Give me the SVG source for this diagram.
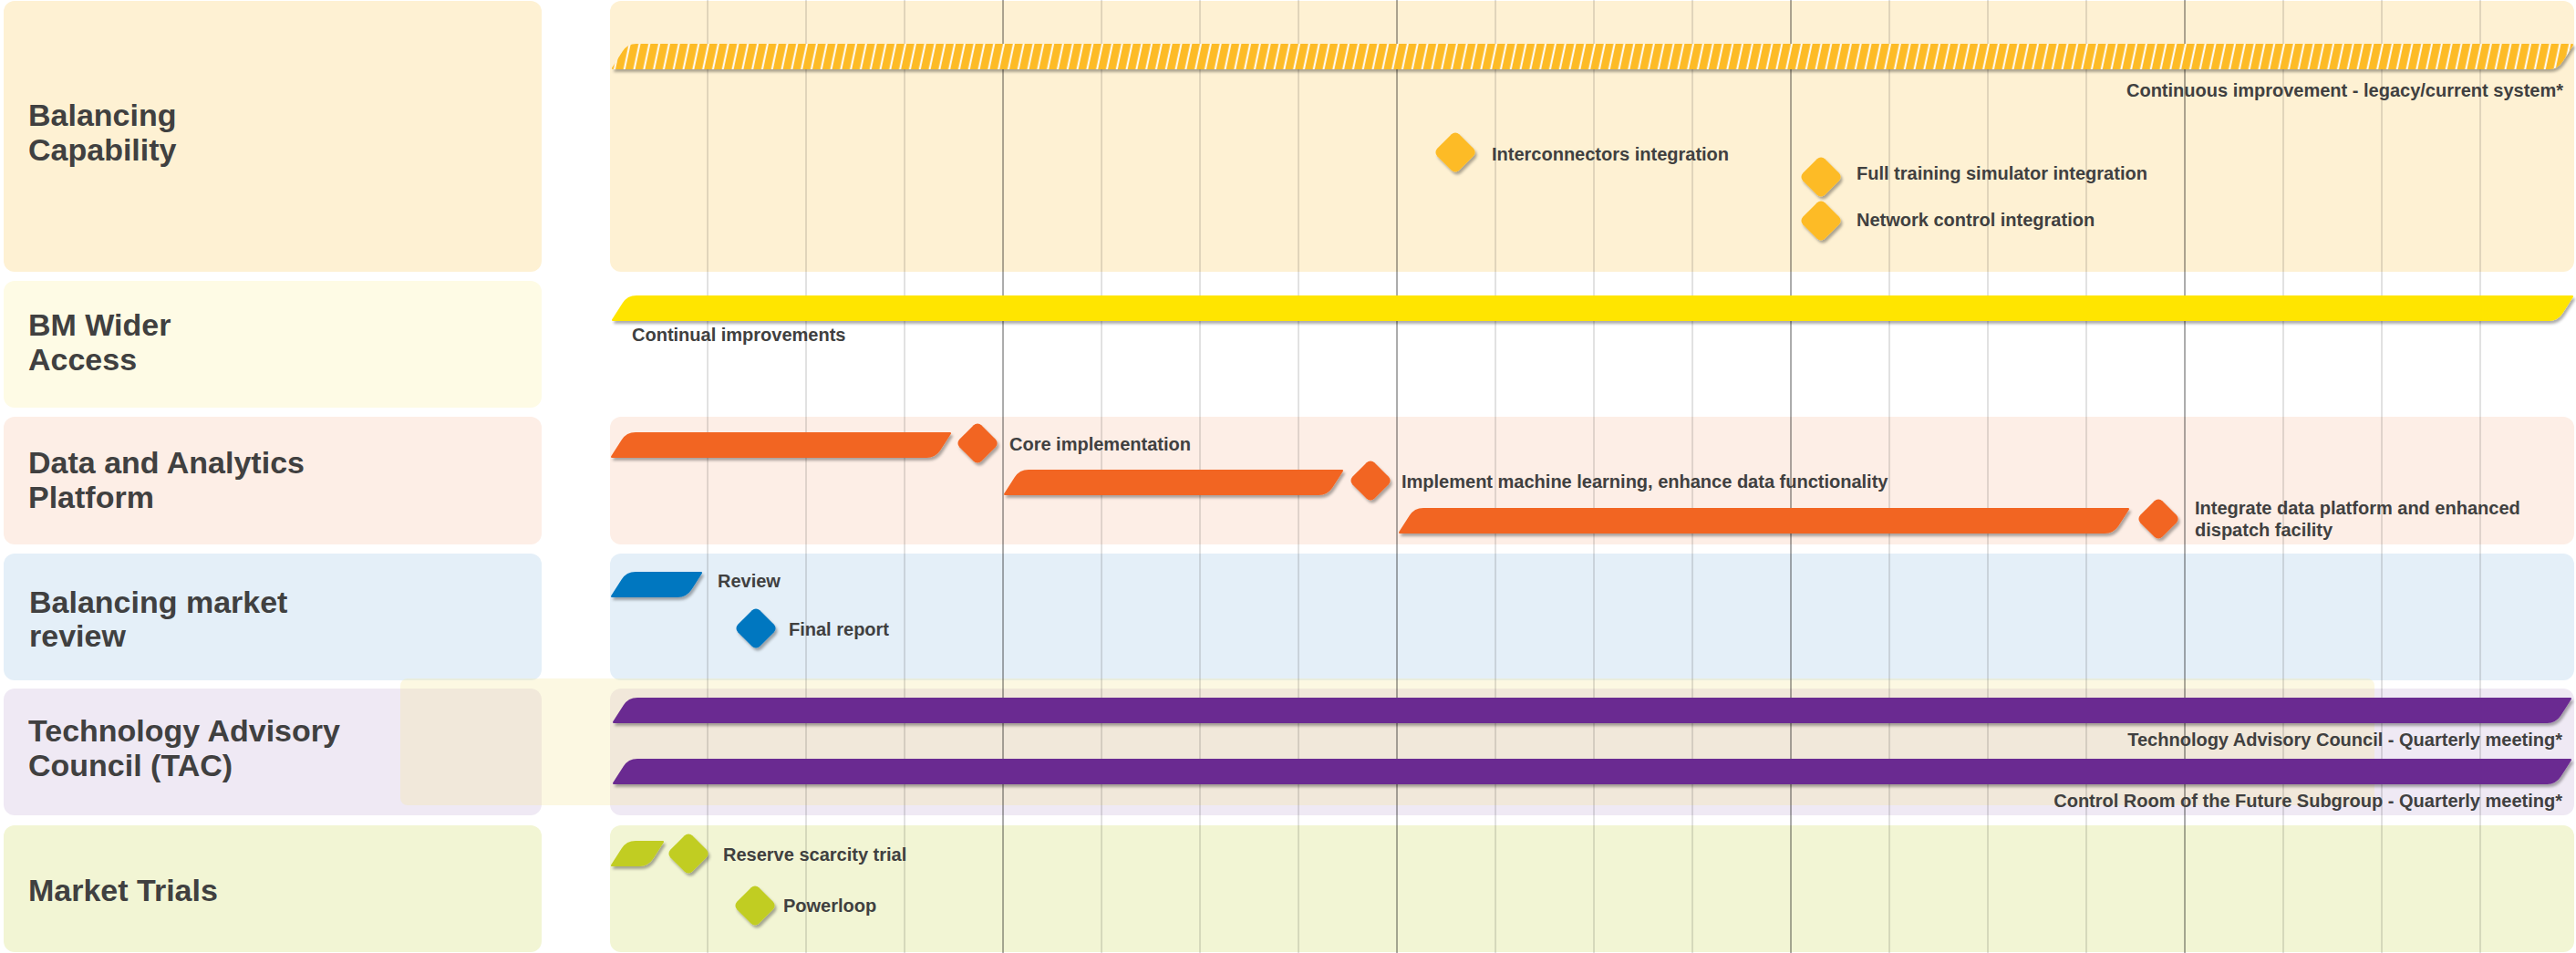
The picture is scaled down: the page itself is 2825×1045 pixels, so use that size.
<svg xmlns="http://www.w3.org/2000/svg" width="2825" height="1045" viewBox="0 0 2825 1045">
<style>
.title{font-family:"Liberation Sans",Arial,sans-serif;font-weight:bold;font-size:34px;fill:#404040}
.lbl{font-family:"Liberation Sans",Arial,sans-serif;font-weight:bold;font-size:20px;fill:#404040}
.end{text-anchor:end}
.gl{stroke:#000;stroke-opacity:0.18;stroke-width:1.3}
.gd{stroke:#000;stroke-opacity:0.5;stroke-width:1.3}
.bar{filter:url(#sh)}
</style>
<defs>
<filter id="sh" x="-5%" y="-40%" width="110%" height="190%">
<feDropShadow dx="2" dy="3" stdDeviation="1.4" flood-color="#000" flood-opacity="0.32"/>
</filter>
<pattern id="hatch" patternUnits="userSpaceOnUse" width="10.8" height="40" patternTransform="skewX(-12)">
<rect width="10.8" height="40" fill="#FDBB27"/>
<rect x="8.6" width="2" height="40" fill="#ffffff"/>
</pattern>
<rect id="dia" x="-17" y="-17" width="34" height="34" rx="6" transform="rotate(45)"/>
</defs>

<g id="panels">
<g id="row-balancing-capability">
<rect x="4" y="1" width="590" height="297" rx="12" fill="#FEF1D3"/>
<rect x="669" y="1" width="2154" height="297" rx="12" fill="#FEF1D3"/>
</g>
<g id="row-bm-wider-access">
<rect x="4" y="308" width="590" height="139" rx="12" fill="#FEFBE5"/>
</g>
<g id="row-data-analytics">
<rect x="4" y="457" width="590" height="140" rx="12" fill="#FDEEE6"/>
<rect x="669" y="457" width="2154" height="140" rx="12" fill="#FDEEE6"/>
</g>
<g id="row-balancing-market-review">
<rect x="4" y="607" width="590" height="139" rx="12" fill="#E4EFF8"/>
<rect x="669" y="607" width="2154" height="139" rx="12" fill="#E4EFF8"/>
</g>
<g id="row-tac">
<rect x="4" y="755" width="590" height="139" rx="12" fill="#EFE9F4"/>
<rect x="669" y="755" width="2154" height="139" rx="12" fill="#EFE9F4"/>
</g>
<g id="row-market-trials">
<rect x="4" y="905" width="590" height="139" rx="12" fill="#F2F5D4"/>
<rect x="669" y="905" width="2154" height="139" rx="12" fill="#F2F5D4"/>
</g>
<rect id="overlay" x="439" y="744" width="2165" height="139" rx="8" fill="#F5E8A0" fill-opacity="0.3"/>
</g>

<g id="titles">
<text class="title" x="31" y="138">Balancing</text>
<text class="title" x="31" y="176">Capability</text>
<text class="title" x="31" y="368">BM Wider</text>
<text class="title" x="31" y="406">Access</text>
<text class="title" x="31" y="519">Data and Analytics</text>
<text class="title" x="31" y="557">Platform</text>
<text class="title" x="32" y="672">Balancing market</text>
<text class="title" x="32" y="709">review</text>
<text class="title" x="31" y="813">Technology Advisory</text>
<text class="title" x="31" y="851">Council (TAC)</text>
<text class="title" x="31" y="988">Market Trials</text>
</g>

<g id="connectors">
<g id="grid">
<line class="gl" x1="776" y1="0" x2="776" y2="1045"/>
<line class="gl" x1="884" y1="0" x2="884" y2="1045"/>
<line class="gl" x1="992" y1="0" x2="992" y2="1045"/>
<line class="gd" x1="1100" y1="0" x2="1100" y2="1045"/>
<line class="gl" x1="1208" y1="0" x2="1208" y2="1045"/>
<line class="gl" x1="1316" y1="0" x2="1316" y2="1045"/>
<line class="gl" x1="1424" y1="0" x2="1424" y2="1045"/>
<line class="gd" x1="1532" y1="0" x2="1532" y2="1045"/>
<line class="gl" x1="1640" y1="0" x2="1640" y2="1045"/>
<line class="gl" x1="1748" y1="0" x2="1748" y2="1045"/>
<line class="gl" x1="1856" y1="0" x2="1856" y2="1045"/>
<line class="gd" x1="1964" y1="0" x2="1964" y2="1045"/>
<line class="gl" x1="2072" y1="0" x2="2072" y2="1045"/>
<line class="gl" x1="2180" y1="0" x2="2180" y2="1045"/>
<line class="gl" x1="2288" y1="0" x2="2288" y2="1045"/>
<line class="gd" x1="2396" y1="0" x2="2396" y2="1045"/>
<line class="gl" x1="2504" y1="0" x2="2504" y2="1045"/>
<line class="gl" x1="2612" y1="0" x2="2612" y2="1045"/>
<line class="gl" x1="2720" y1="0" x2="2720" y2="1045"/>
</g>
</g>

<g id="bar-continuous-improvement">
<path class="bar" fill="url(#hatch)" d="M672.5 76 h2122.5 q10 0 15.41 -8.41 l11.24 -17.49 q1.35 -2.1 -1.15 -2.1 h-2122.5 q-10 0 -15.41 8.41 l-11.24 17.49 q-1.35 2.1 1.15 2.1 z"/>
<text class="lbl end" x="2811" y="106">Continuous improvement - legacy/current system*</text>
</g>
<g id="ms-interconnectors">
<use href="#dia" x="1596" y="167" fill="#FDBB27" class="bar"/>
<text class="lbl" x="1636" y="176">Interconnectors integration</text>
</g>
<g id="ms-full-training">
<use href="#dia" x="1997" y="194" fill="#FDBB27" class="bar"/>
<text class="lbl" x="2036" y="197">Full training simulator integration</text>
</g>
<g id="ms-network-control">
<use href="#dia" x="1997" y="242" fill="#FDBB27" class="bar"/>
<text class="lbl" x="2036" y="248">Network control integration</text>
</g>

<g id="bar-continual-improvements">
<path class="bar" fill="#FFE500" d="M672.5 352 h2122.5 q10 0 15.41 -8.41 l11.24 -17.49 q1.35 -2.1 -1.15 -2.1 h-2122.5 q-10 0 -15.41 8.41 l-11.24 17.49 q-1.35 2.1 1.15 2.1 z"/>
<text class="lbl" x="693" y="374">Continual improvements</text>
</g>

<g id="bar-core">
<path class="bar" fill="#F26522" d="M671.5 502 h344.5 q10 0 15.41 -8.41 l11.24 -17.49 q1.35 -2.1 -1.15 -2.1 h-344.5 q-10 0 -15.41 8.41 l-11.24 17.49 q-1.35 2.1 1.15 2.1 z"/>
</g>
<g id="ms-core">
<use href="#dia" x="1072" y="486" fill="#F26522" class="bar"/>
<text class="lbl" x="1107" y="494">Core implementation</text>
</g>
<g id="bar-ml">
<path class="bar" fill="#F26522" d="M1102.5 543 h343.5 q10 0 15.41 -8.41 l11.24 -17.49 q1.35 -2.1 -1.15 -2.1 h-343.5 q-10 0 -15.41 8.41 l-11.24 17.49 q-1.35 2.1 1.15 2.1 z"/>
</g>
<g id="ms-ml">
<use href="#dia" x="1503" y="527" fill="#F26522" class="bar"/>
<text class="lbl" x="1537" y="535">Implement machine learning, enhance data functionality</text>
</g>
<g id="bar-integrate">
<path class="bar" fill="#F26522" d="M1535.5 585 h772.5 q10 0 15.41 -8.41 l11.24 -17.49 q1.35 -2.1 -1.15 -2.1 h-772.5 q-10 0 -15.41 8.41 l-11.24 17.49 q-1.35 2.1 1.15 2.1 z"/>
</g>
<g id="ms-integrate">
<use href="#dia" x="2367" y="569" fill="#F26522" class="bar"/>
<text class="lbl" x="2407" y="564">Integrate data platform and enhanced</text>
<text class="lbl" x="2407" y="588">dispatch facility</text>
</g>

<g id="bar-review">
<path class="bar" fill="#0077C0" d="M671.5 655 h71.5 q10 0 15.41 -8.41 l11.24 -17.49 q1.35 -2.1 -1.15 -2.1 h-71.5 q-10 0 -15.41 8.41 l-11.24 17.49 q-1.35 2.1 1.15 2.1 z"/>
<text class="lbl" x="787" y="644">Review</text>
</g>
<g id="ms-final-report">
<use href="#dia" x="829" y="689" fill="#0077C0" class="bar"/>
<text class="lbl" x="865" y="697">Final report</text>
</g>

<g id="bar-tac">
<path class="bar" fill="#6B2C91" d="M673.5 793 h2119.5 q10 0 15.41 -8.41 l11.24 -17.49 q1.35 -2.1 -1.15 -2.1 h-2119.5 q-10 0 -15.41 8.41 l-11.24 17.49 q-1.35 2.1 1.15 2.1 z"/>
<text class="lbl end" x="2810" y="818">Technology Advisory Council - Quarterly meeting*</text>
</g>
<g id="bar-crotf">
<path class="bar" fill="#6B2C91" d="M673.5 860 h2119.5 q10 0 15.41 -8.41 l11.24 -17.49 q1.35 -2.1 -1.15 -2.1 h-2119.5 q-10 0 -15.41 8.41 l-11.24 17.49 q-1.35 2.1 1.15 2.1 z"/>
<text class="lbl end" x="2810" y="885">Control Room of the Future Subgroup - Quarterly meeting*</text>
</g>

<g id="bar-reserve">
<path class="bar" fill="#C1CD23" d="M671.5 950 h29.5 q10 0 15.41 -8.41 l11.24 -17.49 q1.35 -2.1 -1.15 -2.1 h-29.5 q-10 0 -15.41 8.41 l-11.24 17.49 q-1.35 2.1 1.15 2.1 z"/>
</g>
<g id="ms-reserve">
<use href="#dia" x="755" y="936" fill="#C1CD23" class="bar"/>
<text class="lbl" x="793" y="944">Reserve scarcity trial</text>
</g>
<g id="ms-powerloop">
<use href="#dia" x="828" y="993" fill="#C1CD23" class="bar"/>
<text class="lbl" x="859" y="1000">Powerloop</text>
</g>
</svg>
